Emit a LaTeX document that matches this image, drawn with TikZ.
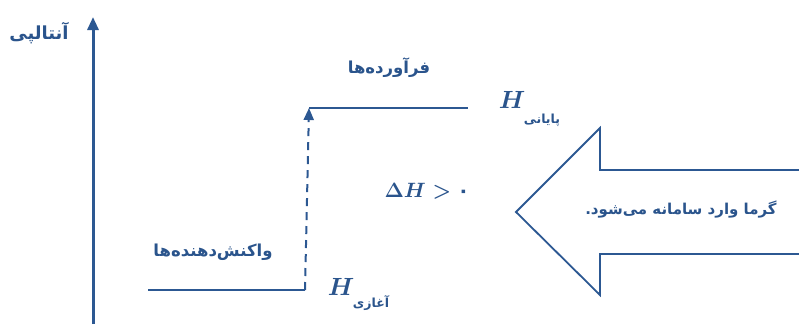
\documentclass[tikz,border=0pt]{standalone}
\usepackage{fontspec}
\usepackage{amsmath,bm}
\usetikzlibrary{arrows.meta}
\TeXXeTstate=1
\newfontfamily\fa[Script=Arabic]{DejaVu Sans}
\definecolor{lineblue}{RGB}{44,88,146}
\definecolor{textblue}{RGB}{42,84,140}
\tikzset{
  lvl/.style={line width=2.8pt, lineblue},
  axisarrow/.style={line width=3pt, lineblue, -{Triangle[width=11pt,length=13pt]}},
  dasharrow/.style={line width=2pt, lineblue, dash pattern=on 8pt off 6pt, -{Triangle[width=10pt,length=12pt]}},
  falabel/.style={text=textblue, font=\fa\bfseries\fontsize{16.5}{19}\selectfont, inner sep=0pt},
  fasub/.style={text=textblue, font=\fa\bfseries\fontsize{12.5}{14}\selectfont, inner sep=0pt},
  hlabel/.style={text=textblue, font=\boldmath\fontsize{24}{26}\selectfont, inner sep=0pt},
  dlabel/.style={text=textblue, font=\boldmath\fontsize{20}{22}\selectfont, inner sep=0pt},
  bigarrow/.style={line width=1.8pt, lineblue}
}
\begin{document}
\begin{tikzpicture}[x=1pt,y=-1pt]
\useasboundingbox (0,0) rectangle (799,324);
% axis
\coordinate (ax0) at (93,324);
\coordinate (ax1) at (93,17);
\draw[axisarrow] (ax0) -- (ax1);
\node[falabel, font=\fa\bfseries\fontsize{18}{20}\selectfont] (enth) at (39,33) {\beginR آنتالپی\endR};
% levels
\coordinate (r1) at (148,290);
\coordinate (r2) at (305,290);
\coordinate (p1) at (309,108);
\coordinate (p2) at (468,108);
\draw[lvl] (r1) -- (r2);
\draw[lvl] (p1) -- (p2);
\draw[dasharrow] (r2) -- (p1);
\node[falabel] (prod) at (389,68) {\beginR فرآورده^^^^200cها\endR};
\node[falabel] (react) at (213,252) {\beginR واکنش^^^^200cدهنده^^^^200cها\endR};
% H labels
\node[hlabel] (Hf) at (512,100) {$H$};
\node[fasub] (Hfs) at (542,120) {\beginR پایانی\endR};
\node[hlabel] (Hi) at (341,287) {$H$};
\node[fasub] (His) at (371,303) {\beginR آغازی\endR};
\node[dlabel] (dH) at (427,191) {$\Delta H >$ {\fa\bfseries ۰}};
% big arrow
\draw[bigarrow] (810,170) -- (600,170) -- (600,128) -- (516,212) -- (600,295) -- (600,254) -- (810,254);
\node[falabel, font=\fa\bfseries\fontsize{15}{17}\selectfont] (heat) at (681,210) {\beginR گرما وارد سامانه می^^^^200cشود.\endR};
\end{tikzpicture}
\end{document}
